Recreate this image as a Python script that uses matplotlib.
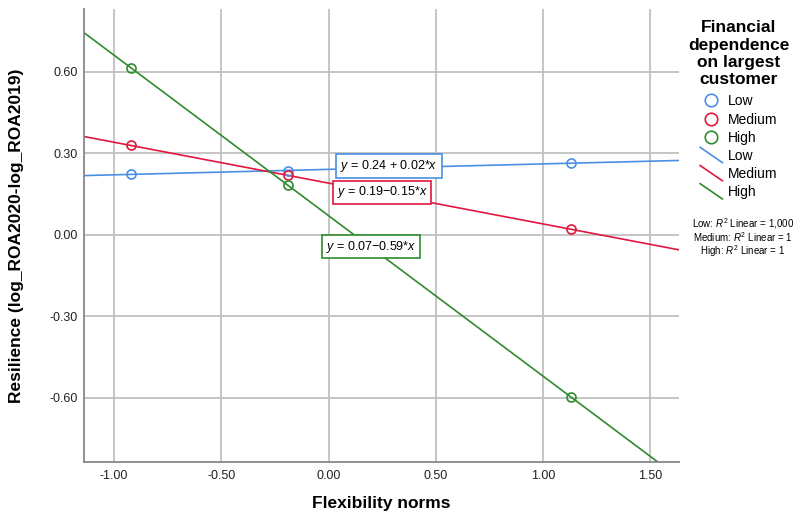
import numpy as np
import matplotlib
matplotlib.use("Agg")
import matplotlib.pyplot as plt
from matplotlib.lines import Line2D
from matplotlib.legend_handler import HandlerBase

plt.rcParams['font.family'] = ['Liberation Sans', 'DejaVu Sans']
plt.rcParams['mathtext.fontset'] = 'custom'
plt.rcParams['mathtext.rm'] = 'Liberation Sans'
plt.rcParams['mathtext.it'] = 'Liberation Sans:italic'

# Datos
grupos = ['Low', 'Medium', 'High']
x_flex = [-0.92, -0.19, 1.13]
y_low = [0.222, 0.236, 0.263]
y_medium = [0.328, 0.218, 0.020]
y_high = [0.613, 0.182, -0.597]
ecuaciones = ['$y$ = 0.24 + 0.02*$x$', '$y$ = 0.19\u22120.15*$x$', '$y$ = 0.07\u22120.59*$x$']
r2_textos = ['Low: $R^2$ Linear = 1,000', 'Medium: $R^2$ Linear = 1', 'High: $R^2$ Linear = 1']
ticks_x = [-1.0, -0.5, 0.0, 0.5, 1.0, 1.5]
ticks_y = [-0.6, -0.3, 0.0, 0.3, 0.6]

colores = ['#4A90E2', '#E0173F', '#2E8B2E']
series = [y_low, y_medium, y_high]
# posiciones de las cajas de ecuacion (coordenadas de datos)
pos_ec = [(0.282, 0.252), (0.25, 0.156), (0.198, -0.044)]

fig = plt.figure(figsize=(7.97, 5.14), dpi=100)
ax = fig.add_axes([0.1054, 0.1012, 0.7466, 0.8813])

xlim = (-1.14, 1.634)
ylim = (-0.836, 0.83)

for xt in ticks_x:
    ax.axvline(xt, color='#C0C0C0', lw=1.3, zorder=0)
for yt in ticks_y:
    ax.axhline(yt, color='#C0C0C0', lw=1.3, zorder=0)

xs = np.array(xlim)
for ys, c in zip(series, colores):
    m, b = np.polyfit(x_flex, ys, 1)
    ax.plot(xs, m * xs + b, color=c, lw=1.2, zorder=2)
    ax.plot(x_flex, ys, 'o', mfc='none', mec=c, ms=6.5, mew=1.2, zorder=3)

for (px, py), texto, c in zip(pos_ec, ecuaciones, colores):
    ax.text(px, py, texto, ha='center', va='center', fontsize=9, zorder=4,
            bbox=dict(boxstyle='square,pad=0.3', fc='white', ec=c, lw=1.2))

ax.set_xlim(xlim)
ax.set_ylim(ylim)
ax.set_xticks(ticks_x)
ax.set_xticklabels([f'{v:.2f}' for v in ticks_x])
ax.set_yticks(ticks_y)
ax.set_yticklabels([f'{v:.2f}' for v in ticks_y])
ax.tick_params(length=0, labelsize=9, colors='#222222')
ax.tick_params(axis='x', pad=6)
ax.tick_params(axis='y', pad=4.5)
for lado in ['top', 'right']:
    ax.spines[lado].set_visible(False)
for lado in ['left', 'bottom']:
    ax.spines[lado].set_color('#888888')
    ax.spines[lado].set_linewidth(1.3)

ax.set_xlabel('Flexibility norms', fontsize=12.5, fontweight='bold')
ax.set_ylabel('Resilience (log_ROA2020-log_ROA2019)', fontsize=12.5, fontweight='bold')
ax.xaxis.set_label_coords(0.5, -0.074)
ax.yaxis.set_label_coords(-0.101, 0.5)


class HandlerDiagonal(HandlerBase):
    def create_artists(self, legend, orig_handle, xdescent, ydescent, width, height, fontsize, trans):
        linea = Line2D([-xdescent, -xdescent + width], [-ydescent + height + 2, -ydescent - 2],
                       color=orig_handle.get_color(), lw=1.2, transform=trans)
        return [linea]


handles = []
labels = []
for g, c in zip(grupos, colores):
    handles.append(Line2D([], [], ls='none', marker='o', mfc='none', mec=c, ms=9, mew=1.2))
    labels.append(g)
diag = []
for g, c in zip(grupos, colores):
    diag.append(Line2D([], [], color=c))
    labels.append(g)
handles += diag

leg = fig.legend(handles, labels, loc='upper center', bbox_to_anchor=(0.927, 0.985),
                 frameon=False, fontsize=10, title='Financial\ndependence\non largest\ncustomer',
                 title_fontproperties={'weight': 'bold', 'size': 12.5},
                 handlelength=1.6, handletextpad=0.4, labelspacing=0.3,
                 handler_map={h: HandlerDiagonal() for h in diag})
leg.get_title().set_multialignment('center')
leg._legend_box.align = 'center'
leg._legend_box.sep = 5

for i, t in enumerate(r2_textos):
    fig.text(0.932, 1 - (224 + 13.5 * i) / 514, t, ha='center', va='center', fontsize=7)

fig.savefig('out.png', dpi=100)
